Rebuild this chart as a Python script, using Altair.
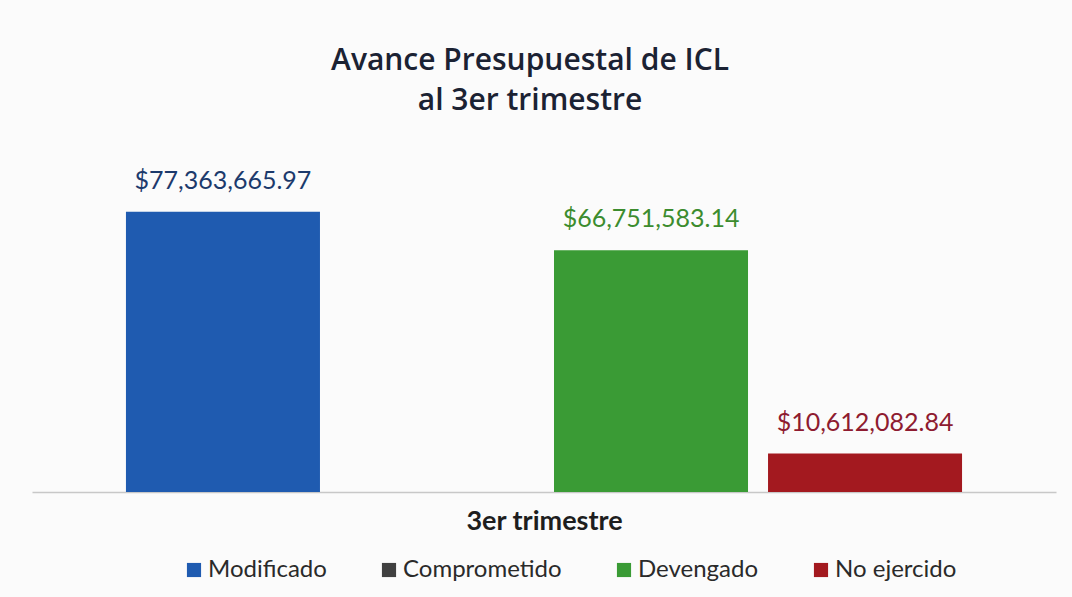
import altair as alt
import pandas as pd

series = ["Modificado", "Comprometido", "Devengado", "No ejercido"]
values = [77363665.97, 0.0, 66751583.14, 10612082.84]
value_labels = ["$77,363,665.97", "", "$66,751,583.14", "$10,612,082.84"]
bar_colors = ["#1F5BB0", "#404040", "#3A9B35", "#A3191F"]
label_colors = ["#1C3A6C", "#404040", "#3C8C2E", "#8E1B30"]
title_lines = ["Avance Presupuestal de ICL", "al 3er trimestre"]
x_title = "3er trimestre"

df = pd.DataFrame({
    "serie": series,
    "valor": values,
    "etiqueta": value_labels,
    "color_etiqueta": label_colors,
})

FONT = "Lato"

x_enc = alt.X(
    "serie:N",
    sort=series,
    scale=alt.Scale(paddingInner=0.0935, paddingOuter=0.439),
    axis=alt.Axis(
        labels=False, ticks=False, domain=True, domainColor="#c8c8c8",
        domainWidth=1.5, title=x_title, titleFont=FONT, titleFontSize=27,
        titleFontWeight="bold", titleColor="#1e1e1e", titlePadding=16,
    ),
)
y_enc = alt.Y(
    "valor:Q",
    scale=alt.Scale(domain=[0, 90000000]),
    axis=None,
)

bars = alt.Chart(df).mark_bar().encode(
    x=x_enc,
    y=y_enc,
    color=alt.Color(
        "serie:N",
        sort=series,
        scale=alt.Scale(domain=series, range=bar_colors),
        legend=alt.Legend(
            title=None, orient="none", direction="horizontal",
            legendX=150, legendY=392,
            symbolType="square", symbolSize=200, symbolStrokeWidth=0,
            labelFont=FONT, labelFontSize=24, labelColor="#2a2a2a",
            columnPadding=50, labelOffset=2,
        ),
    ),
)

text = alt.Chart(df).transform_filter("datum.valor > 0").mark_text(
    baseline="bottom", dy=-18, font=FONT, fontSize=25,
).encode(
    x=alt.X("serie:N", sort=series),
    y=alt.Y("valor:Q"),
    text="etiqueta:N",
    color=alt.Color("color_etiqueta:N", scale=None, legend=None),
)

chart = alt.layer(bars, text).properties(
    width=1024,
    height=326,
    autosize=alt.AutoSizeParams(type="none"),
    padding={"left": 32, "top": 166, "right": 16, "bottom": 105},
    background="#fbfbfb",
    title=alt.Title(
        title_lines, font="Open Sans", fontSize=30, fontWeight=600,
        color="#1b2233", anchor="middle", dx=-14, offset=50, lineHeight=40,
    ),
).configure_view(stroke=None)

chart.save("out.html", embed_options={"renderer": "svg", "actions": False})
